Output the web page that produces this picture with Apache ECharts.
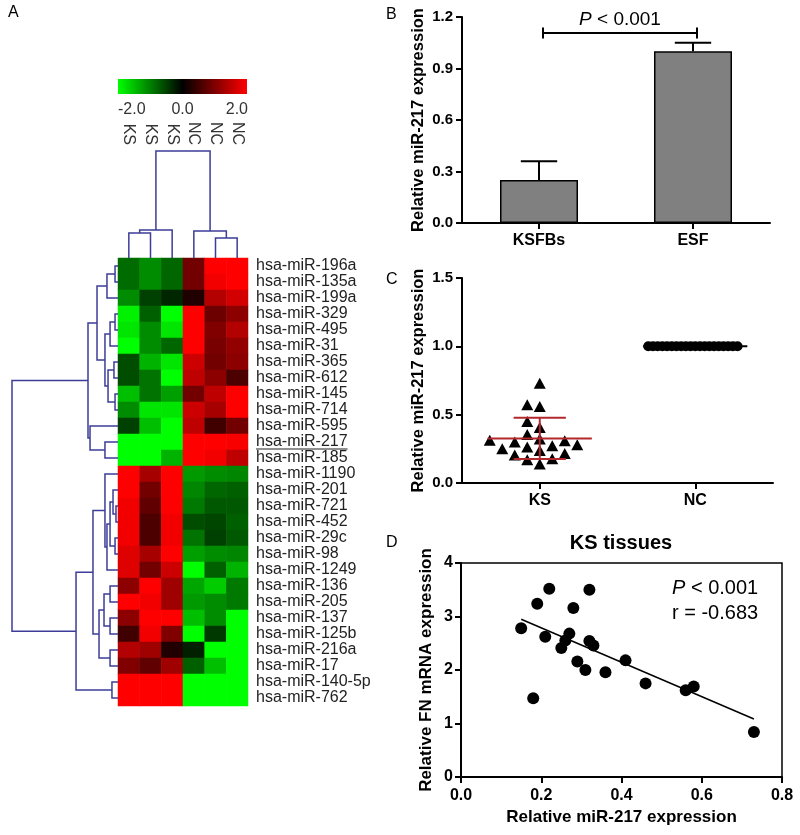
<!DOCTYPE html>
<html><head><meta charset="utf-8">
<script src="https://cdn.jsdelivr.net/npm/echarts@6/dist/echarts.min.js"></script>
<style>html,body{margin:0;padding:0;background:#fff}#c{width:800px;height:835px}</style>
</head><body><div id="c"></div>
<script>
// ================= DATA =================
// Panel A: heatmap
const heatColumns = ['KS','KS','KS','NC','NC','NC'];
const heatRows = ['hsa-miR-196a','hsa-miR-135a','hsa-miR-199a','hsa-miR-329','hsa-miR-495','hsa-miR-31',
  'hsa-miR-365','hsa-miR-612','hsa-miR-145','hsa-miR-714','hsa-miR-595','hsa-miR-217','hsa-miR-185',
  'hsa-miR-1190','hsa-miR-201','hsa-miR-721','hsa-miR-452','hsa-miR-29c','hsa-miR-98','hsa-miR-1249',
  'hsa-miR-136','hsa-miR-205','hsa-miR-137','hsa-miR-125b','hsa-miR-216a','hsa-miR-17','hsa-miR-140-5p','hsa-miR-762'];
const heatValues = [
  [-0.85,-1.1,-0.8, 0.9, 2.0, 2.0],
  [-0.85,-1.1,-0.8, 0.9, 1.9, 2.0],
  [-1.1,-0.5,-0.3, 0.25, 1.4, 1.65],
  [-1.9,-0.75,-2.0, 2.0, 0.85, 1.1],
  [-1.8,-1.1,-1.8, 2.0, 1.0, 1.4],
  [-2.0,-1.1,-0.8, 2.0, 0.95, 1.15],
  [-0.6,-1.4,-1.8, 1.6, 0.9, 1.1],
  [-0.6,-0.9,-2.0, 1.5, 1.1, 0.6],
  [-1.5,-0.9,-1.25, 0.9, 1.5, 2.0],
  [-1.1,-1.8,-1.8, 1.6, 1.3, 2.0],
  [-0.5,-1.5,-2.0, 1.5, 0.5, 0.9],
  [-2.0,-2.0,-2.0, 2.0, 2.0, 1.95],
  [-2.0,-2.0,-1.4, 2.0, 1.9, 1.5],
  [2.0, 1.3, 2.0,-1.2,-1.1,-1.05],
  [2.0, 0.9, 2.0,-1.05,-0.8,-0.75],
  [1.9, 0.75, 2.0,-0.95,-0.7,-0.7],
  [1.9, 0.6, 1.9,-0.6,-0.55,-0.75],
  [1.9, 0.6, 1.9,-0.9,-0.5,-0.7],
  [1.75, 1.3, 2.0,-1.25,-1.1,-1.05],
  [1.75, 0.9, 1.6,-2.0,-0.75,-1.4],
  [1.1, 2.0, 1.25,-1.3,-1.6,-0.95],
  [2.0, 1.9, 1.25,-1.2,-1.1,-0.95],
  [1.1, 2.0, 2.0,-1.5,-1.1,-2.0],
  [0.5, 1.9, 1.0,-2.0,-0.45,-2.0],
  [1.4, 1.25, 0.25,-0.25,-2.0,-2.0],
  [1.0, 0.75, 1.25,-0.75,-1.5,-2.0],
  [2.0, 2.0, 2.0,-2.0,-2.0,-2.0],
  [2.0, 2.0, 2.0,-2.0,-2.0,-2.0]
];
const colorbarMin = -2, colorbarMax = 2;
const colorbarTicks = ['-2.0','0.0','2.0'];
const highlightedRow = 'hsa-miR-217';
// Dendrogram merges: [left, right, height]; negative = leaf -(index+1), positive = earlier merge number (1-based)
const rowMerges = [
  [-1,-2,0.28],[1,-3,1.04],[-4,-5,0.28],[3,-6,0.75],[-7,-8,0.38],[-9,-10,0.28],[5,6,0.94],[4,7,1.23],
  [2,8,1.98],[-12,-13,1.23],[-11,10,2.64],[9,11,2.83],
  [-16,-17,0.19],[-15,13,0.47],[-18,-19,0.28],[14,15,0.75],[16,-20,1.04],[-14,17,1.23],
  [-21,-22,0.75],[-23,-24,0.75],[19,20,1.32],[-25,-26,0.75],[21,22,1.79],[18,23,2.36],
  [-27,-28,0.57],[24,25,3.96],[12,26,10]
];
const colMerges = [[-1,-2,2.34],[1,-3,2.62],[-5,-6,1.87],[-4,3,2.52],[2,4,10]];

// Panel B
const bCategories = ['KSFBs','ESF'];
const bMeans = [0.25, 1.0];
const bErrors = [0.11, 0.05];
const bPText = 'P < 0.001';

// Panel C
const cCategories = ['KS','NC'];
const cKS = [0.73,0.56,0.573,0.45,0.407,0.30,0.273,0.251,0.312,0.354,0.322,0.263,0.28,0.31,0.215,0.178,0.237,0.205,0.139,0.171];
const cNC = [1,1,1,1,1,1,1,1,1,1,1,1,1,1,1,1,1,1,1,1];

// Panel D
const dMiR217 = [0.15,0.19,0.22,0.32,0.21,0.28,0.27,0.25,0.26,0.32,0.33,0.29,0.31,0.36,0.41,0.18,0.46,0.56,0.58,0.73];
const dFN     = [2.78,3.24,3.52,3.50,2.62,3.16,2.68,2.41,2.55,2.54,2.46,2.16,2.00,1.96,2.18,1.47,1.75,1.62,1.69,0.84];
const dTitle = 'KS tissues';
const dStats = ['P < 0.001', 'r = -0.683'];

// ================= LAYOUT / STYLE =================
const FONT = '"Liberation Sans", Arial, Helvetica, sans-serif';
const DEND = '#3d3d99';
const G = {
  heat: {left:118, top:258, width:130, height:448},
  rowD: {left:12, top:258, width:106, height:448},
  colD: {left:118, top:151, width:130, height:107},
  B: {left:462, top:17, width:308, height:206},
  C: {left:462, top:278, width:311, height:205},
  D: {left:461, top:563, width:321, height:214}
};

function dendroSegments(merges) {
  const pos = [], hgt = [];
  const get = id => id < 0 ? {p: -id - 1, h: 0} : {p: pos[id - 1], h: hgt[id - 1]};
  return merges.map((m, i) => {
    const a = get(m[0]), b = get(m[1]);
    pos[i] = (a.p + b.p) / 2; hgt[i] = m[2];
    return [a.p, a.h, b.p, b.h, m[2]];
  });
}
function swarmOffsets(values, stepPx, minDyPx, pxPerUnit) {
  const order = values.map((v, i) => i).sort((a, b) => values[a] - values[b]);
  const placed = [], off = new Array(values.length).fill(0);
  for (const i of order) {
    const y = values[i] * pxPerUnit;
    for (let k = 0; k < 400; k++) {
      const cand = k === 0 ? 0 : (k % 2 ? -1 : 1) * Math.ceil(k / 2) * stepPx;
      const clash = placed.some(p => Math.abs(p.x - cand) < stepPx * 0.99 && Math.abs(p.y - y) < minDyPx);
      if (!clash) { off[i] = cand; placed.push({x: cand, y}); break; }
    }
  }
  return off;
}
const mean = a => a.reduce((s, v) => s + v, 0) / a.length;
const sd = a => { const m = mean(a); return Math.sqrt(a.reduce((s, v) => s + (v - m) * (v - m), 0) / (a.length - 1)); };

// derived
const heatData = [];
heatValues.forEach((row, r) => row.forEach((v, c) => heatData.push([c, r, v])));
const rowSegs = dendroSegments(rowMerges);
const colSegs = dendroSegments(colMerges);
const cYMax = 1.5;
const ksOff = swarmOffsets(cKS, 12.5, 11, G.C.height / cYMax);
const ncOff = swarmOffsets(cNC, 4.7, 9, G.C.height / cYMax);
const cStats = [[0, mean(cKS), sd(cKS)], [1, mean(cNC), sd(cNC)]];
const cLineColors = ['#b3282d', '#000000'];
const mx = mean(dMiR217), my = mean(dFN);
let sxy = 0, sxx = 0;
dMiR217.forEach((x, i) => { sxy += (x - mx) * (dFN[i] - my); sxx += (x - mx) * (x - mx); });
const slope = sxy / sxx, intercept = my - slope * mx;
const xMin = Math.min(...dMiR217), xMax = Math.max(...dMiR217);
const regLine = [[xMin, intercept + slope * xMin], [xMax, intercept + slope * xMax]];
const italicP = s => s.replace(/^P/, '{i|P}');

const blackAxis = {lineStyle: {color: '#000', width: 2}};
const blackTick = {show: true, length: 6, lineStyle: {color: '#000', width: 2}};
const boldLbl = (size, margin, extra) => Object.assign({fontSize: size, fontWeight: 'bold', color: '#000', fontFamily: FONT, margin}, extra || {});
const nameStyle = size => ({fontSize: size, fontWeight: 'bold', color: '#000', fontFamily: FONT});

function txt(text, x, y, size, opts) {
  opts = opts || {};
  return {type: 'text', x, y, silent: true, style: Object.assign({
    text, font: (opts.weight || 'normal') + ' ' + size + 'px ' + FONT, fill: opts.color || '#000',
    align: opts.align || 'left', textAlign: opts.align || 'left',
    verticalAlign: 'middle', textVerticalAlign: 'middle'}, opts.rich ? {rich: opts.rich} : {})};
}

const graphics = [
  {type: 'rect', shape: {x: 118, y: 79, width: 129, height: 15}, silent: true,
   style: {fill: new echarts.graphic.LinearGradient(0, 0, 1, 0, [
     {offset: 0, color: '#00ff00'}, {offset: 0.5, color: '#000000'}, {offset: 1, color: '#ff0000'}])}},
  txt(colorbarTicks[0], 118, 110, 16, {color: '#333'}),
  txt(colorbarTicks[1], 182.5, 110, 16, {color: '#333', align: 'center'}),
  txt(colorbarTicks[2], 248, 110, 16, {color: '#333', align: 'right'}),
  txt('A', 8, 13, 16),
  txt('B', 386, 15, 16),
  txt('C', 386, 280, 16),
  txt('D', 386, 543, 16),
  txt(dTitle, 621, 543, 20, {weight: 'bold', align: 'center'}),
  txt(italicP(dStats[0]), 672, 588, 20, {rich: {i: {fontStyle: 'italic', fontSize: 20, fontFamily: FONT}}}),
  txt(dStats[1], 672, 613, 20)
];

const option = {
  animation: false,
  backgroundColor: '#fff',
  textStyle: {fontFamily: FONT},
  grid: [
    G.heat, G.rowD, G.colD, G.B, G.C,
    Object.assign({show: true, borderColor: '#000', borderWidth: 1.5, backgroundColor: 'transparent'}, G.D)
  ].map(g => Object.assign({containLabel: false}, g)),
  visualMap: {type: 'continuous', min: colorbarMin, max: colorbarMax, seriesIndex: 0, show: false,
    inRange: {color: ['#00ff00', '#000000', '#ff0000']}},
  xAxis: [
    {gridIndex: 0, type: 'category', data: heatColumns, position: 'top', axisLine: {show: false}, axisTick: {show: false},
     splitLine: {show: false}, axisLabel: {rotate: 90, margin: 113, interval: 0, fontSize: 16, color: '#333', fontFamily: FONT}},
    {gridIndex: 1, type: 'value', min: 0, max: 10, inverse: true, show: false},
    {gridIndex: 2, type: 'value', min: -0.5, max: 5.5, show: false},
    {gridIndex: 3, type: 'category', data: bCategories, axisLine: blackAxis, axisTick: Object.assign({alignWithLabel: true}, blackTick),
     axisLabel: boldLbl(16, 10)},
    {gridIndex: 4, type: 'category', data: cCategories, axisLine: blackAxis, axisTick: Object.assign({alignWithLabel: true}, blackTick),
     axisLabel: boldLbl(16, 10)},
    {gridIndex: 5, type: 'value', min: 0, max: 0.8, interval: 0.2, axisLine: blackAxis, axisTick: blackTick, splitLine: {show: false},
     axisLabel: boldLbl(16, 11, {formatter: v => v.toFixed(1)}),
     name: 'Relative miR-217 expression', nameLocation: 'middle', nameGap: 32, nameTextStyle: nameStyle(17)}
  ],
  yAxis: [
    {gridIndex: 0, type: 'category', data: heatRows, inverse: true, position: 'right', axisLine: {show: false}, axisTick: {show: false},
     splitLine: {show: false}, axisLabel: {margin: 8, interval: 0, fontSize: 16, color: '#222', fontFamily: FONT}},
    {gridIndex: 1, type: 'value', min: -0.5, max: heatRows.length - 0.5, inverse: true, show: false},
    {gridIndex: 2, type: 'value', min: 0, max: 10, show: false},
    {gridIndex: 3, type: 'value', min: 0, max: 1.2, interval: 0.3, axisLine: Object.assign({show: true}, blackAxis), axisTick: blackTick,
     splitLine: {show: false}, axisLabel: boldLbl(15, 9, {formatter: v => v.toFixed(1)}),
     name: 'Relative miR-217 expression', nameLocation: 'middle', nameGap: 35, nameTextStyle: nameStyle(16.5)},
    {gridIndex: 4, type: 'value', min: 0, max: cYMax, interval: 0.5, axisLine: Object.assign({show: true}, blackAxis), axisTick: blackTick,
     splitLine: {show: false}, axisLabel: boldLbl(15, 9, {formatter: v => v.toFixed(1)}),
     name: 'Relative miR-217 expression', nameLocation: 'middle', nameGap: 35, nameTextStyle: nameStyle(16.5)},
    {gridIndex: 5, type: 'value', min: 0, max: 4, interval: 1, axisLine: Object.assign({show: true}, blackAxis), axisTick: blackTick,
     splitLine: {show: false}, axisLabel: boldLbl(16, 8),
     name: 'Relative FN mRNA expression', nameLocation: 'middle', nameGap: 26, nameTextStyle: nameStyle(17)}
  ],
  series: [
    {type: 'heatmap', xAxisIndex: 0, yAxisIndex: 0, data: heatData, silent: true, emphasis: {disabled: true}},
    {type: 'custom', xAxisIndex: 1, yAxisIndex: 1, data: rowSegs, silent: true,
     renderItem: (p, api) => {
       const pL = api.value(0), hL = api.value(1), pR = api.value(2), hR = api.value(3), h = api.value(4);
       return {type: 'polyline', shape: {points: [api.coord([hL, pL]), api.coord([h, pL]), api.coord([h, pR]), api.coord([hR, pR])]},
         style: {stroke: DEND, lineWidth: 1.5, fill: null}};
     }},
    {type: 'custom', xAxisIndex: 2, yAxisIndex: 2, data: colSegs, silent: true,
     renderItem: (p, api) => {
       const pL = api.value(0), hL = api.value(1), pR = api.value(2), hR = api.value(3), h = api.value(4);
       return {type: 'polyline', shape: {points: [api.coord([pL, hL]), api.coord([pL, h]), api.coord([pR, h]), api.coord([pR, hR])]},
         style: {stroke: DEND, lineWidth: 1.5, fill: null}};
     }},
    {type: 'bar', xAxisIndex: 3, yAxisIndex: 3, data: bMeans, barWidth: 78, silent: true,
     itemStyle: {color: '#808080', borderColor: '#000', borderWidth: 1.5}},
    {type: 'custom', xAxisIndex: 3, yAxisIndex: 3, silent: true, z: 3,
     data: bMeans.map((m, i) => [i, m, bErrors[i]]),
     renderItem: (p, api) => {
       const i = api.value(0), m = api.value(1), e = api.value(2);
       const b = api.coord([i, m]), t = api.coord([i, m + e]);
       const half = api.size([1, 0])[0] * 0.118;
       const st = {stroke: '#000', lineWidth: 2};
       return {type: 'group', children: [
         {type: 'line', shape: {x1: b[0], y1: b[1], x2: t[0], y2: t[1]}, style: st},
         {type: 'line', shape: {x1: t[0] - half, y1: t[1], x2: t[0] + half, y2: t[1]}, style: st}]};
     }},
    {type: 'custom', xAxisIndex: 3, yAxisIndex: 3, silent: true, z: 3,
     data: [[0, 1, Math.max(...bMeans.map((m, i) => m + bErrors[i])) + 0.057]],
     renderItem: (p, api) => {
       const a = api.coord([api.value(0), api.value(2)]), b = api.coord([api.value(1), api.value(2)]);
       const st = {stroke: '#000', lineWidth: 2};
       return {type: 'group', children: [
         {type: 'line', shape: {x1: a[0] + 4, y1: a[1], x2: b[0] + 4, y2: b[1]}, style: st},
         {type: 'line', shape: {x1: a[0] + 4, y1: a[1] - 5.5, x2: a[0] + 4, y2: a[1] + 5.5}, style: st},
         {type: 'line', shape: {x1: b[0] + 4, y1: b[1] - 5.5, x2: b[0] + 4, y2: b[1] + 5.5}, style: st},
         {type: 'text', x: (a[0] + b[0]) / 2 + 4, y: a[1] - 4,
          style: {text: italicP(bPText), font: '19px ' + FONT, fill: '#000', align: 'center', verticalAlign: 'bottom',
                  rich: {i: {fontStyle: 'italic', fontSize: 19, fontFamily: FONT}}}}]};
     }},
    {type: 'scatter', xAxisIndex: 4, yAxisIndex: 4, silent: true, symbol: 'triangle', symbolSize: [12, 11],
     itemStyle: {color: '#000', opacity: 1}, data: cKS.map((v, i) => ({value: [0, v], symbolOffset: [ksOff[i], 0]}))},
    {type: 'scatter', xAxisIndex: 4, yAxisIndex: 4, silent: true, symbol: 'circle', symbolSize: 10,
     itemStyle: {color: '#000', opacity: 1}, data: cNC.map((v, i) => ({value: [1, v], symbolOffset: [ncOff[i], 0]}))},
    {type: 'custom', xAxisIndex: 4, yAxisIndex: 4, silent: true, z: 5, data: cStats,
     renderItem: (p, api) => {
       const i = api.value(0), m = api.value(1), s = api.value(2);
       const band = api.size([1, 0])[0];
       const hm = band * 0.335, hs = band * 0.168;
       const c = api.coord([i, m]);
       const st = {stroke: cLineColors[i], lineWidth: 2};
       const ch = [{type: 'line', shape: {x1: c[0] - hm, y1: c[1], x2: c[0] + hm, y2: c[1]}, style: st}];
       if (s > 0) {
         const t = api.coord([i, m + s]), b = api.coord([i, m - s]);
         ch.push({type: 'line', shape: {x1: t[0], y1: t[1], x2: b[0], y2: b[1]}, style: st});
         ch.push({type: 'line', shape: {x1: t[0] - hs, y1: t[1], x2: t[0] + hs, y2: t[1]}, style: st});
         ch.push({type: 'line', shape: {x1: b[0] - hs, y1: b[1], x2: b[0] + hs, y2: b[1]}, style: st});
       }
       return {type: 'group', children: ch};
     }},
    {type: 'scatter', xAxisIndex: 5, yAxisIndex: 5, silent: true, symbol: 'circle', symbolSize: 12,
     itemStyle: {color: '#000', opacity: 1}, data: dMiR217.map((x, i) => [x, dFN[i]])},
    {type: 'line', xAxisIndex: 5, yAxisIndex: 5, silent: true, showSymbol: false, symbol: 'none',
     lineStyle: {color: '#000', width: 1.5}, data: regLine}
  ],
  graphic: graphics
};

const chart = echarts.init(document.getElementById('c'), null, {renderer: 'canvas'});
chart.setOption(option);

// underline for highlighted row label
const ri = heatRows.indexOf(highlightedRow);
const y1 = chart.convertToPixel({yAxisIndex: 0}, ri);
const y2 = chart.convertToPixel({yAxisIndex: 0}, ri + 1);
const ctx = document.createElement('canvas').getContext('2d');
ctx.font = '16px ' + FONT;
const tw = ctx.measureText(highlightedRow).width;
const ux = G.heat.left + G.heat.width + 8;
const uy = (y1 + y2) / 2 - 1;
graphics.push({type: 'line', silent: true, shape: {x1: ux, y1: uy, x2: ux + tw, y2: uy}, style: {stroke: '#222', lineWidth: 1.2}});
chart.setOption({graphic: graphics});
</script>
</body></html>
